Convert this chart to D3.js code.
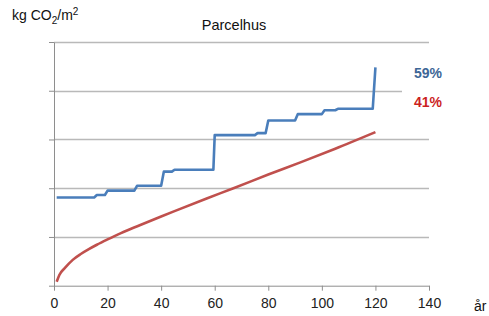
<!DOCTYPE html>
<html lang="en">
<head>
<meta charset="UTF-8">
<title>Parcelhus</title>
<style>
  html, body { margin: 0; background: #fff; }
  text { font-family: "Liberation Sans", Arial, sans-serif; }
</style>
</head>
<body>
<svg id="chart" width="489" height="316"></svg>
<script src="https://cdn.jsdelivr.net/npm/d3@7"></script>
<script>
// data (year, kg CO2/m2 in gridline units)
const blueYears  = [1, 15, 16, 19, 20, 30, 31, 40, 41, 44, 45, 59.5, 60, 75, 76, 79, 80, 90, 91, 100, 101, 105, 106, 119, 120];
const blueValues = [1.81, 1.81, 1.86, 1.86, 1.95, 1.95, 2.05, 2.05, 2.34, 2.34, 2.38, 2.38, 3.09, 3.09, 3.13, 3.13, 3.39, 3.39, 3.52, 3.52, 3.60, 3.60, 3.63, 3.63, 4.48];
const redYears   = [1, 2, 4, 7, 10, 13, 16, 20, 25, 32, 40, 45, 57, 67, 80, 92, 105, 120];
const redValues  = [0.08, 0.22, 0.36, 0.53, 0.65, 0.75, 0.84, 0.95, 1.08, 1.24, 1.42, 1.53, 1.79, 2.0, 2.28, 2.53, 2.81, 3.15];
const xTicks = [0, 20, 40, 60, 80, 100, 120, 140];
const yTicks = [0, 1, 2, 3, 4, 5];
const labels = ["59%", "41%"];

const svg = d3.select('#chart');
const margin = {left: 54, right: 60, top: 42, bottom: 30};

const x = d3.scaleLinear().domain([0, 140]).range([margin.left, 429]);
const y = d3.scaleLinear().domain([0, 5]).range([285.7, margin.top]);

// gridlines
svg.append('g')
  .selectAll('line')
  .data(yTicks.slice(1))
  .join('line')
  .attr('x1', x(0)).attr('x2', x(140))
  .attr('y1', d => Math.round(y(d)) + 0.5).attr('y2', d => Math.round(y(d)) + 0.5)
  .attr('stroke', '#b9b9b9').attr('stroke-width', 1.3);

// y axis (ticks only)
const yAxis = svg.append('g')
  .attr('transform', `translate(${x(0)},0)`)
  .call(d3.axisLeft(y).tickValues(yTicks).tickFormat('').tickSize(5).tickSizeOuter(0));
yAxis.select('.domain').attr('stroke', '#8e8e8e');
yAxis.selectAll('.tick line').attr('stroke', '#8e8e8e');

// x axis
const xAxis = svg.append('g')
  .attr('transform', `translate(0,${y(0)})`)
  .call(d3.axisBottom(x).tickValues(xTicks).tickSize(5).tickSizeOuter(0).tickPadding(7));
xAxis.select('.domain').attr('stroke', '#8e8e8e');
xAxis.selectAll('.tick line').attr('stroke', '#8e8e8e');
xAxis.selectAll('.tick text')
  .attr('fill', '#222').style('font-size', '14px').style('font-family', '"Liberation Sans", Arial, sans-serif');

svg.append('path')
  .datum(redYears.map((v, i) => [v, redValues[i]]))
  .attr('d', d3.line().x(d => x(d[0])).y(d => y(d[1])).curve(d3.curveMonotoneX))
  .attr('fill', 'none').attr('stroke', '#c0504d').attr('stroke-width', 2.6);

svg.append('path')
  .datum(blueYears.map((v, i) => [v, blueValues[i]]))
  .attr('d', d3.line().x(d => x(d[0])).y(d => y(d[1])))
  .attr('fill', 'none').attr('stroke', '#4a7ebb').attr('stroke-width', 2.6)
  .attr('stroke-linejoin', 'round');

// percentage labels
svg.append('rect').attr('x', 402).attr('y', 86).attr('width', 50).attr('height', 28).attr('fill', '#fff');
svg.selectAll('.pct')
  .data(labels)
  .join('text')
  .attr('class', 'pct')
  .attr('x', 428).attr('y', (d, i) => 78 + i * 29)
  .attr('text-anchor', 'middle')
  .attr('fill', (d, i) => i === 0 ? '#3d6696' : '#cc1f1f')
  .style('font-size', '14px').style('font-weight', 'bold')
  .text(d => d);

// title and axis labels
svg.append('text').attr('x', 234).attr('y', 30).attr('text-anchor', 'middle')
  .style('font-size', '14.5px').attr('fill', '#111').text('Parcelhus');

const yl = svg.append('text').attr('x', 12).attr('y', 20).style('font-size', '14px').attr('fill', '#111');
yl.append('tspan').text('kg CO');
yl.append('tspan').attr('dy', 4).style('font-size', '10px').text('2');
yl.append('tspan').attr('dy', -4).text('/m');
yl.append('tspan').attr('dy', -5).style('font-size', '10px').text('2');

svg.append('text').attr('x', 474).attr('y', 311)
  .style('font-size', '14px').attr('fill', '#111').text('år');
</script>
</body>
</html>
